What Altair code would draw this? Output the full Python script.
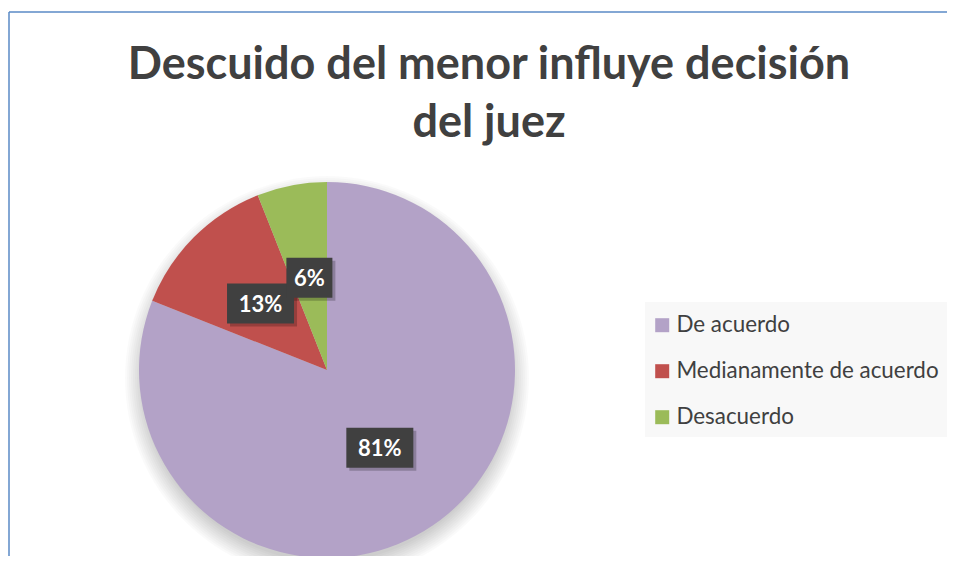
import altair as alt
import pandas as pd

# ---- data ----
categories = ["De acuerdo", "Medianamente de acuerdo", "Desacuerdo"]
values = [81, 13, 6]
labels = ["81%", "13%", "6%"]
colors = ["#b3a2c7", "#c0504d", "#9bbb59"]
title_lines = ["Descuido del menor influye decisión", "del juez"]

df = pd.DataFrame({
    "category": categories,
    "value": values,
    "label": labels,
    "order": list(range(len(categories))),
})
dummy = pd.DataFrame({"d": [0]})
title_df = pd.DataFrame({"t": title_lines, "line": list(range(len(title_lines)))})

W, H = 939, 548
CX, CY, R = 319, 362, 188
LR = 94
FONT = "Lato"

# border (left and top edges)
border_top = alt.Chart(dummy).mark_rule(color="#5a8ac6", strokeWidth=1.5).encode(
    x=alt.value(1), x2=alt.value(W), y=alt.value(4))
border_left = alt.Chart(dummy).mark_rule(color="#5a8ac6", strokeWidth=1.5).encode(
    x=alt.value(1), y=alt.value(4), y2=alt.value(H))

# legend background box
legend_bg = alt.Chart(dummy).mark_rect(color="#f8f8f8").encode(
    x=alt.value(637), x2=alt.value(W), y=alt.value(294), y2=alt.value(429))

# soft shadow under pie
shadows = [
    alt.Chart(dummy).mark_arc(theta=0, theta2=6.2832, radius=r, color="#000000",
                              opacity=0.018).encode(x=alt.value(CX), y=alt.value(CY + 8))
    for r in range(184, 204, 2)
]

pie = alt.Chart(df).mark_arc(radius=R).encode(
    theta=alt.Theta("value:Q", stack=True),
    order=alt.Order("order:Q"),
    color=alt.Color(
        "category:N",
        scale=alt.Scale(domain=categories, range=colors),
        legend=alt.Legend(
            title=None, orient="none", legendX=643, legendY=306,
            padding=0, symbolType="square", symbolSize=196,
            symbolStrokeWidth=0, labelFontSize=22.4, labelFont=FONT, labelColor="#404040",
            rowPadding=23, labelOffset=3, labelLimit=400,
        ),
    ),
    x=alt.value(CX), y=alt.value(CY),
)

lab_base = alt.Chart(df).transform_window(
    cum="sum(value)", sort=[alt.SortField("order")], frame=[None, 0]
).transform_joinaggregate(
    total="sum(value)"
).transform_calculate(
    mid="(datum.cum - datum.value/2) / datum.total * 2 * PI",
    px=f"{CX} + {LR} * sin(datum.mid)",
    py=f"{CY} - {LR} * cos(datum.mid)",
    hw="10.5 * length(datum.label) + 2",
).transform_calculate(
    x1="datum.px - datum.hw", x2="datum.px + datum.hw",
    y1="datum.py - 20", y2="datum.py + 20",
    sx1="datum.px - datum.hw + 3", sx2="datum.px + datum.hw + 3",
    sy1="datum.py - 17", sy2="datum.py + 23",
)

box_shadow = lab_base.mark_rect(color="#000000", opacity=0.22).encode(
    x=alt.X("sx1:Q", scale=None, axis=None), x2="sx2:Q",
    y=alt.Y("sy1:Q", scale=None, axis=None), y2="sy2:Q",
)
boxes = lab_base.mark_rect(color="#404040").encode(
    x=alt.X("x1:Q", scale=None, axis=None), x2="x2:Q",
    y=alt.Y("y1:Q", scale=None, axis=None), y2="y2:Q",
)
texts = lab_base.mark_text(font=FONT, fontSize=22, fontWeight="bold", color="#ffffff",
                           baseline="middle", align="center", dy=1).encode(
    x=alt.X("px:Q", scale=None, axis=None),
    y=alt.Y("py:Q", scale=None, axis=None),
    text="label:N",
)

title = alt.Chart(title_df).transform_calculate(
    ty="71 + 58 * datum.line"
).mark_text(font=FONT, fontSize=45, fontWeight="bold", color="#404040",
            baseline="alphabetic", align="center").encode(
    x=alt.value(481),
    y=alt.Y("ty:Q", scale=None, axis=None),
    text="t:N",
)

chart = alt.layer(
    border_top, border_left, legend_bg, *shadows, pie, box_shadow, boxes, texts, title
).properties(
    width=W, height=H, autosize=alt.AutoSizeParams(type="none"), padding=0,
    background="#ffffff",
).configure_view(stroke=None)

chart.save("out.html", embed_options={"renderer": "svg", "actions": False})
